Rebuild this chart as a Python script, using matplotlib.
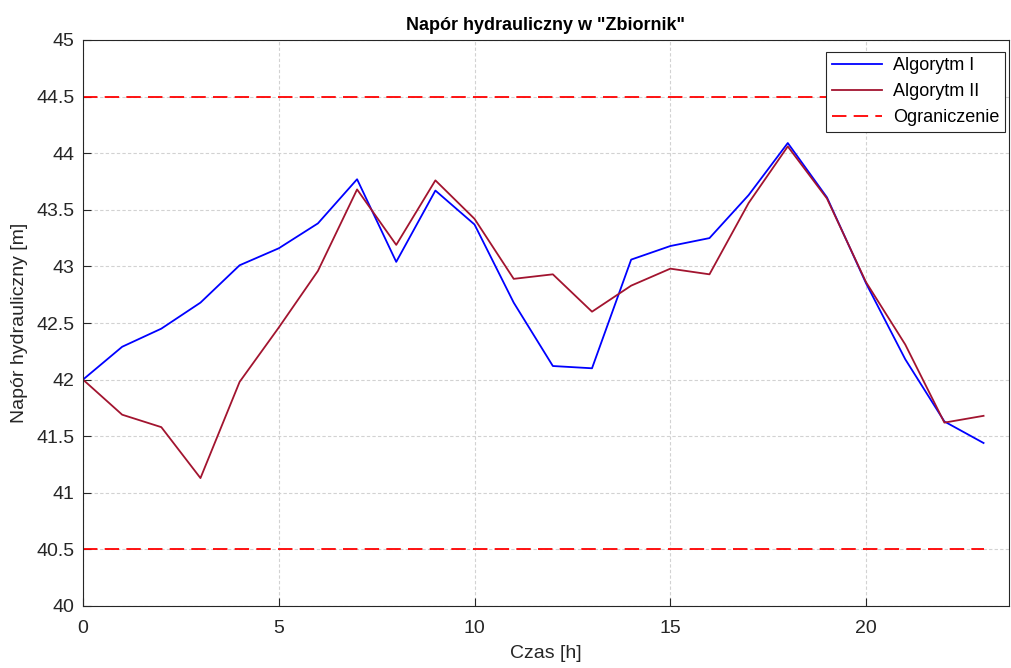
import matplotlib.pyplot as plt

plt.rcParams["font.family"] = ["Liberation Sans", "DejaVu Sans"]

# Data
hours = list(range(24))
algorytm_1 = [42.00, 42.29, 42.45, 42.68, 43.01, 43.16, 43.38, 43.77, 43.04, 43.67,
              43.37, 42.68, 42.12, 42.10, 43.06, 43.18, 43.25, 43.63, 44.09, 43.61,
              42.85, 42.18, 41.63, 41.44]
algorytm_2 = [42.00, 41.69, 41.58, 41.13, 41.98, 42.46, 42.96, 43.68, 43.19, 43.76,
              43.42, 42.89, 42.93, 42.60, 42.83, 42.98, 42.93, 43.56, 44.06, 43.60,
              42.86, 42.31, 41.62, 41.68]
limit_upper = 44.5
limit_lower = 40.5

fig = plt.figure(figsize=(10.11, 6.68), dpi=100)
ax = fig.add_axes([83/1011, 1 - 606/668, (1009 - 83)/1011, (606 - 40)/668])

ax.plot(hours, algorytm_1, color="#0000FF", linewidth=1.3, label="Algorytm I")
ax.plot(hours, algorytm_2, color="#A2142F", linewidth=1.3, label="Algorytm II")
ax.plot([hours[0], hours[-1]], [limit_upper, limit_upper], color="#FF0000",
        linewidth=1.3, dashes=(8, 4), label="Ograniczenie")
ax.plot([hours[0], hours[-1]], [limit_lower, limit_lower], color="#FF0000",
        linewidth=1.3, dashes=(8, 4))

ax.set_xlim(0, 23.65)
ax.set_ylim(40, 45)
ax.set_xticks([0, 5, 10, 15, 20])
ax.set_yticks([40, 40.5, 41, 41.5, 42, 42.5, 43, 43.5, 44, 44.5, 45])
ax.set_yticklabels(["40", "40.5", "41", "41.5", "42", "42.5", "43", "43.5", "44", "44.5", "45"])
ax.tick_params(axis="both", direction="in", labelsize=14, length=6, width=0.8,
               colors="#262626")
ax.tick_params(axis="x", pad=10)
ax.tick_params(axis="y", pad=6)
ax.grid(True, color="#D2D2D2", linestyle=(0, (3, 2)), linewidth=0.8)
ax.set_axisbelow(True)
for spine in ax.spines.values():
    spine.set_linewidth(0.8)
    spine.set_color("#262626")

ax.set_xlabel("Czas [h]", fontsize=14, color="#262626", labelpad=6)
ax.set_ylabel("Napór hydrauliczny [m]", fontsize=14, color="#262626", labelpad=6)
ax.set_title('Napór hydrauliczny w "Zbiornik"', fontsize=13, fontweight="bold", pad=7)

leg = ax.legend(loc="upper right", fontsize=13, fancybox=False, framealpha=1,
                edgecolor="#262626", borderpad=0.3, labelspacing=0.5,
                handlelength=2.8, handletextpad=0.6, borderaxespad=0,
                bbox_to_anchor=(1 - 4/926, 1 - 12/566))
leg.get_frame().set_linewidth(0.8)

plt.savefig("out.png", dpi=100)
plt.close()
